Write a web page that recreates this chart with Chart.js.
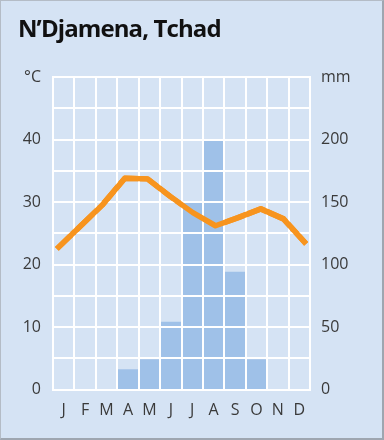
<!DOCTYPE html>
<html>
<head>
<meta charset="utf-8">
<script src="https://cdn.jsdelivr.net/npm/chart.js@4.4.0/dist/chart.umd.min.js"></script>
<style>
  html, body { margin: 0; padding: 0; background: #d5e3f4; }
  #wrap { position: relative; width: 384px; height: 440px; overflow: hidden; }
  #frame { position: absolute; inset: 0; border: 1px solid #b4bcc6; border-right: 2px solid #9ea6b0; border-bottom: 2px solid #9ea6b0; pointer-events: none; }
  h1 { position: absolute; left: 18px; top: 16px; margin: 0; font: bold 24px/24px "Open Sans", sans-serif; letter-spacing: -0.9px; color: #111; }
  canvas { position: absolute; left: 0; top: 0; }
</style>
</head>
<body>
<div id="wrap">
  <canvas id="chart" width="384" height="440"></canvas>
  <h1>N’Djamena, Tchad</h1>
  <div id="frame"></div>
</div>
<script>
// month labels and climate values
const months = ["J", "F", "M", "A", "M", "J", "J", "A", "S", "O", "N", "D"];
const temperature = [22.5, 26.0, 29.5, 33.8, 33.7, 30.9, 28.3, 26.2, 27.5, 28.9, 27.3, 23.3]; // °C
const precipitation = [0, 0, 0, 16, 24, 54, 150, 199, 94, 24, 0, 0]; // mm

const tickFont = { family: "'Open Sans', sans-serif", size: 16 };
const tickColor = "#3a3a3a";

// redraw the temperature line above the grid (grid sits above the bars)
const lineOnTop = {
  id: "lineOnTop",
  afterDraw(chart) {
    chart.getDatasetMeta(1).controller.draw();
  },
};

const ctx = document.getElementById("chart").getContext("2d");
new Chart(ctx, {
  data: {
    labels: months,
    datasets: [
      {
        type: "bar",
        data: precipitation,
        xAxisID: "x",
        yAxisID: "y1",
        backgroundColor: "#9fc1e8",
        categoryPercentage: 1,
        barPercentage: 1,
        grouped: false,
      },
      {
        type: "line",
        data: temperature.map((t, i) => ({ x: i, y: t })),
        xAxisID: "xl",
        yAxisID: "y",
        borderColor: "#f7941e",
        borderWidth: 5.5,
        borderJoinStyle: "round",
        pointRadius: 0,
        tension: 0,
      },
    ],
  },
  options: {
    responsive: false,
    animation: false,
    layout: { padding: { top: 77, left: 0, right: 0, bottom: 0 } },
    plugins: {
      legend: { display: false },
      tooltip: { enabled: false },
    },
    scales: {
      x: {
        offset: true,
        grid: { z: 1, color: "#ffffff", lineWidth: 2, offset: true, drawTicks: false },
        border: { z: 1, color: "#ffffff", width: 2 },
        ticks: { font: tickFont, color: tickColor, padding: 11, maxRotation: 0, autoSkip: false },
        afterFit(s) { s.height = 50.5; },
      },
      xl: {
        type: "linear",
        display: false,
        min: -0.17,
        max: 11.17,
      },
      y: {
        position: "left",
        min: 0,
        max: 50,
        grid: { z: 1, color: "#ffffff", lineWidth: 2, drawTicks: false },
        border: { z: 1, color: "#ffffff", width: 2 },
        ticks: {
          stepSize: 5,
          font: tickFont,
          color: tickColor,
          padding: 12,
          callback: (v) => (v === 50 ? "°C" : v % 10 === 0 ? v : ""),
        },
        afterFit(s) { s.width = 53; },
      },
      y1: {
        position: "right",
        min: 0,
        max: 250,
        grid: { drawOnChartArea: false, drawTicks: false },
        border: { z: 1, color: "#ffffff", width: 2 },
        ticks: {
          stepSize: 25,
          font: tickFont,
          color: tickColor,
          padding: 11,
          callback: (v) => (v === 250 ? "mm" : v % 50 === 0 ? v : ""),
        },
        afterFit(s) { s.width = 74; },
      },
    },
  },
  plugins: [lineOnTop],
});
</script>
</body>
</html>
